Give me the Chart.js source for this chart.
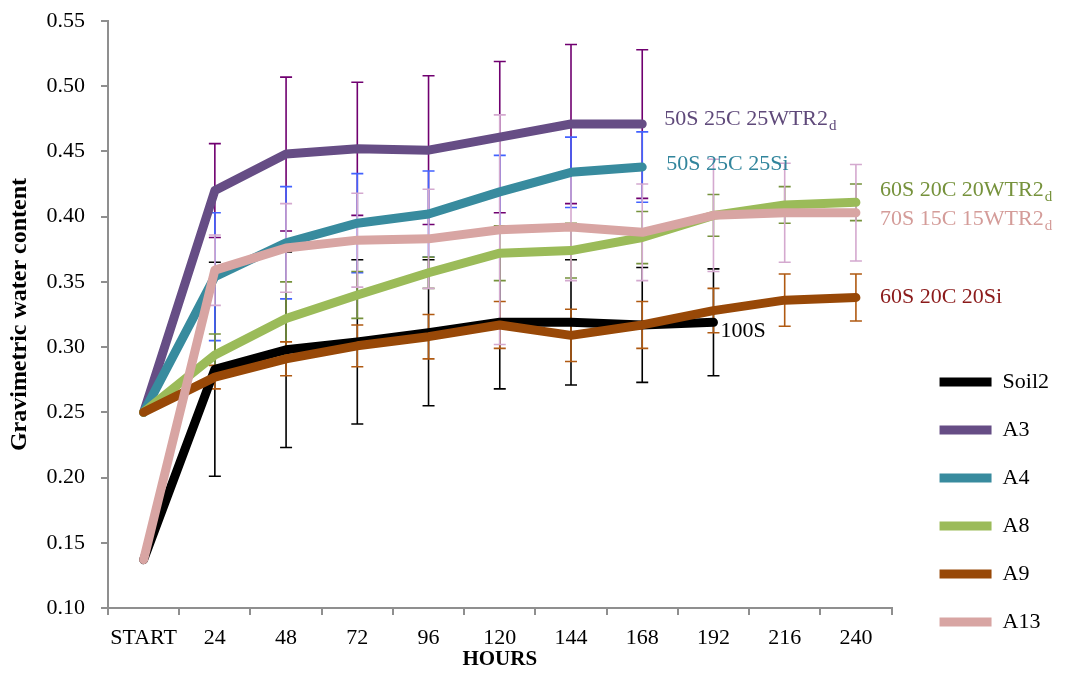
<!DOCTYPE html>
<html>
<head>
<meta charset="utf-8">
<script src="https://cdn.jsdelivr.net/npm/chart.js@4.4.1/dist/chart.umd.min.js"></script>
<style>
  html, body { margin: 0; padding: 0; background: #fff; }
  #wrap { width: 1074px; height: 673px; }
</style>
</head>
<body>
<div id="wrap"><canvas id="waterChart" width="1074" height="673"></canvas></div>
<script>
// hours since start
var hours = ['START', '24', '48', '72', '96', '120', '144', '168', '192', '216', '240'];

// gravimetric water content, one array per mix
var soil2 = [0.137, 0.283, 0.298, 0.304, 0.311, 0.319, 0.319, 0.317, 0.319, null, null];
var a3    = [0.250, 0.420, 0.448, 0.452, 0.451, 0.461, 0.471, 0.471, null, null, null];
var a4    = [0.250, 0.354, 0.380, 0.395, 0.402, 0.419, 0.434, 0.438, null, null, null];
var a8    = [0.250, 0.294, 0.322, 0.340, 0.357, 0.372, 0.374, 0.384, 0.401, 0.409, 0.411];
var a9    = [0.250, 0.277, 0.291, 0.301, 0.308, 0.317, 0.309, 0.317, 0.328, 0.336, 0.338];
var a13   = [0.137, 0.359, 0.376, 0.382, 0.383, 0.390, 0.392, 0.388, 0.401, 0.403, 0.403];

// error bar half widths (std dev)
var soil2Err = [0, 0.082, 0.075, 0.063, 0.056, 0.051, 0.048, 0.044, 0.041];
var a3Err    = [0, 0.036, 0.059, 0.051, 0.057, 0.058, 0.061, 0.057];
var a4Err    = [0, 0.049, 0.043, 0.038, 0.033, 0.028, 0.027, 0.027];
var a8Err    = [0, 0.016, 0.028, 0.018, 0.012, 0.021, 0.021, 0.020, 0.016, 0.014, 0.014];
var a9Err    = [0, 0.009, 0.013, 0.016, 0.017, 0.018, 0.020, 0.018, 0.017, 0.020, 0.018];
var a13Err   = [0, 0.027, 0.034, 0.036, 0.038, 0.088, 0.041, 0.037, 0.043, 0.038, 0.037];

var yTicks = [0.10, 0.15, 0.20, 0.25, 0.30, 0.35, 0.40, 0.45, 0.50, 0.55];

var errs = [soil2Err, a3Err, a4Err, a8Err, a9Err, a13Err];
var barColors = ['#000000', '#700070', '#4262ff', '#76923c', '#b05a12', '#d4a9cf'];

var endLabels = [
    { ds: 0, text: '100S', sub: '', color: '#000000', dx: 7, dy: 9 },
    { ds: 1, text: '50S 25C 25WTR2', sub: 'd', color: '#5f497a', dx: 22, dy: -5 },
    { ds: 2, text: '50S 25C 25Si', sub: '', color: '#31859c', dx: 24, dy: -3 },
    { ds: 3, text: '60S 20C 20WTR2', sub: 'd', color: '#76923c', dx: 24, dy: -12 },
    { ds: 4, text: '60S 20C 20Si', sub: '', color: '#8b1a1a', dx: 24, dy: 0 },
    { ds: 5, text: '70S 15C 15WTR2', sub: 'd', color: '#d49c99', dx: 24, dy: 6 }
];

var errorBars = {
    id: 'errorBars',
    beforeDatasetsDraw: function (chart) {
        var ctx = chart.ctx;
        var y = chart.scales.y;
        ctx.save();
        chart.data.datasets.forEach(function (ds, i) {
            var meta = chart.getDatasetMeta(i);
            var err = errs[i];
            ctx.strokeStyle = barColors[i];
            ctx.lineWidth = 1.6;
            meta.data.forEach(function (pt, j) {
                var v = ds.data[j];
                if (v == null || !err[j]) return;
                var top = y.getPixelForValue(v + err[j]);
                var bot = y.getPixelForValue(v - err[j]);
                ctx.beginPath();
                ctx.moveTo(pt.x, top); ctx.lineTo(pt.x, bot);
                ctx.moveTo(pt.x - 6, top); ctx.lineTo(pt.x + 6, top);
                ctx.moveTo(pt.x - 6, bot); ctx.lineTo(pt.x + 6, bot);
                ctx.stroke();
            });
        });
        ctx.restore();
    }
};

var lineEndLabels = {
    id: 'lineEndLabels',
    afterDatasetsDraw: function (chart) {
        var ctx = chart.ctx;
        ctx.save();
        ctx.textAlign = 'left';
        ctx.textBaseline = 'middle';
        endLabels.forEach(function (lab) {
            var data = chart.data.datasets[lab.ds].data;
            var last = data.length - 1;
            while (data[last] == null) last--;
            var pt = chart.getDatasetMeta(lab.ds).data[last];
            var x = pt.x + lab.dx, y = pt.y + lab.dy;
            ctx.fillStyle = lab.color;
            ctx.font = '22px "Liberation Serif"';
            ctx.fillText(lab.text, x, y);
            if (lab.sub) {
                var w = ctx.measureText(lab.text).width;
                ctx.font = '15px "Liberation Serif"';
                ctx.fillText(lab.sub, x + w + 1, y + 7);
            }
        });
        ctx.restore();
    }
};

// later series sit on top, as in the original plot
function series(label, data, color, order) {
    return {
        label: label,
        data: data,
        order: order,
        borderColor: color,
        backgroundColor: color,
        borderWidth: 9,
        borderCapStyle: 'round',
        borderJoinStyle: 'round',
        pointRadius: 0,
        tension: 0,
        fill: false
    };
}

Chart.defaults.font.family = '"Liberation Serif", serif';
Chart.defaults.color = '#000000';

new Chart(document.getElementById('waterChart'), {
    type: 'line',
    data: {
        labels: hours,
        datasets: [
            series('Soil2', soil2, '#000000', 5),
            series('A3', a3, '#664d85', 4),
            series('A4', a4, '#388b9e', 3),
            series('A8', a8, '#9bbb59', 2),
            series('A9', a9, '#984807', 1),
            series('A13', a13, '#d8a5a3', 0)
        ]
    },
    options: {
        responsive: false,
        animation: false,
        layout: { padding: { top: 21, right: 15, bottom: 14, left: 0 } },
        plugins: {
            tooltip: { enabled: false },
            legend: {
                position: 'right',
                align: 'end',
                labels: {
                    usePointStyle: true,
                    pointStyle: 'line',
                    pointStyleWidth: 52,
                    padding: 26,
                    font: { size: 22 },
                    color: '#000000',
                    sort: function (a, b) { return a.datasetIndex - b.datasetIndex; }
                }
            }
        },
        scales: {
            x: {
                offset: true,
                grid: { offset: true, drawOnChartArea: false, tickLength: 7, color: '#8f8f8f', lineWidth: 2 },
                border: { color: '#8f8f8f', width: 2 },
                ticks: { font: { size: 22 }, padding: 10, autoSkip: false, maxRotation: 0 },
                title: { display: true, text: 'HOURS', font: { size: 21, weight: 'bold' }, padding: { top: 0, bottom: -13 } },
                afterFit: function (s) { s.height = 51; }
            },
            y: {
                min: 0.10,
                max: 0.55,
                grid: { drawOnChartArea: false, tickLength: 7, color: '#8f8f8f', lineWidth: 2 },
                border: { color: '#8f8f8f', width: 2 },
                afterBuildTicks: function (s) { s.ticks = yTicks.map(function (v) { return { value: v }; }); },
                ticks: {
                    font: { size: 22 },
                    padding: 16,
                    callback: function (v) { return Number(v).toFixed(2); }
                },
                title: { display: true, text: 'Gravimetric water content', font: { size: 24, weight: 'bold' }, padding: { top: 5, bottom: 0 } },
                afterFit: function (s) {
                    s.width = 108;
                    s.paddingTop = 0;
                    s.paddingBottom = 0;
                }
            },
            gap: {
                position: 'right',
                grid: { display: false },
                border: { display: false },
                ticks: { display: false },
                afterFit: function (s) { s.width = 22; }
            }
        }
    },
    plugins: [errorBars, lineEndLabels]
});
</script>
</body>
</html>
